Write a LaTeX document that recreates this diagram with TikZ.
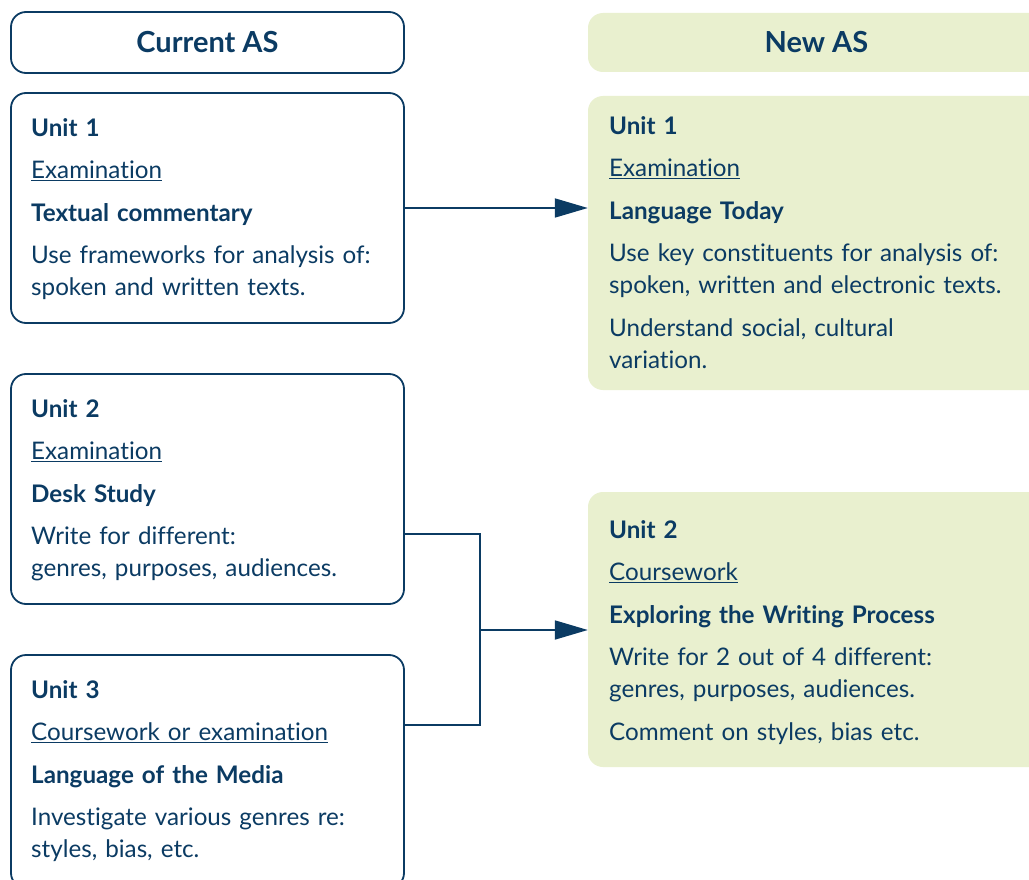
\documentclass[tikz,border=0pt]{standalone}
\usepackage{fontspec}
\setmainfont{Lato}[Ligatures=NoCommon]
\usetikzlibrary{arrows.meta}

\definecolor{navy}{HTML}{0B3B63}
\definecolor{palegreen}{HTML}{E9F0CF}

\tikzset{
  oldbox/.style={draw=navy, line width=1.8pt, rounded corners=15pt},
  newbox/.style={fill=palegreen, rounded corners=15pt},
  heading/.style={text=navy, font=\fontsize{29}{32}\selectfont\bfseries},
  unittext/.style={text=navy, text width=430pt, inner sep=0pt, align=left, anchor=north west,
    font={\fontsize{24.2}{32}\selectfont\setlength\parskip{10.5pt}}},
  link/.style={draw=navy, line width=1.8pt},
  tip/.style={-{Triangle[length=33pt,width=19pt]}},
}

\newcommand{\mode}[1]{\underline{#1}}

\begin{document}
\begin{tikzpicture}[x=1pt,y=-1pt]
\useasboundingbox[fill=white] (0,0) rectangle (1029,880);

% left column
\node[oldbox, heading, minimum width=393pt, minimum height=61pt] (curhead) at (207.5,42.5) {Current AS};
\node[oldbox, minimum width=393pt, minimum height=230pt] (cur1) at (207.5,208) {};
\node[oldbox, minimum width=393pt, minimum height=230pt] (cur2) at (207.5,489) {};
\node[oldbox, minimum width=393pt, minimum height=233pt] (cur3) at (207.5,771.5) {};

\node[unittext] (cur1txt) at (31,118) {\textbf{Unit 1}\par \mode{Examination}\par \textbf{Textual commentary}\par
  Use frameworks for analysis of:\\ spoken and written texts.};
\node[unittext] (cur2txt) at (31,399) {\textbf{Unit 2}\par \mode{Examination}\par \textbf{Desk Study}\par
  Write for different:\\ genres, purposes, audiences.};
\node[unittext] (cur3txt) at (31,680) {\textbf{Unit 3}\par \mode{Coursework or examination}\par \textbf{Language of the Media}\par
  Investigate various genres re:\\ styles, bias, etc.};

% right column
\node[newbox, heading, minimum width=457pt, minimum height=59pt] (newhead) at (816.5,42.5) {New AS};
\node[newbox, minimum width=457pt, minimum height=294pt] (new1) at (816.5,243) {};
\node[newbox, minimum width=457pt, minimum height=275pt] (new2) at (816.5,629.5) {};

\node[unittext] (new1txt) at (609,116) {\textbf{Unit 1}\par \mode{Examination}\par \textbf{Language Today}\par
  Use key constituents for analysis of:\\ spoken, written and electronic texts.\par
  Understand social, cultural\\ variation.};
\node[unittext] (new2txt) at (609,520) {\textbf{Unit 2}\par \mode{Coursework}\par \textbf{Exploring the Writing Process}\par
  Write for 2 out of 4 different:\\ genres, purposes, audiences.\par
  Comment on styles, bias etc.};

% connectors
\coordinate (in2) at ([yshift=-45pt]cur2.east);
\coordinate (in3) at ([yshift=46.5pt]cur3.east);
\coordinate (merge) at (480,630);

\draw[link, tip] (cur1.east) -- (cur1.east -| new1.west);
\draw[link] (in2) -| (merge) |- (in3);
\draw[link, tip] (merge) -- (merge -| new2.west);
\end{tikzpicture}
\end{document}
